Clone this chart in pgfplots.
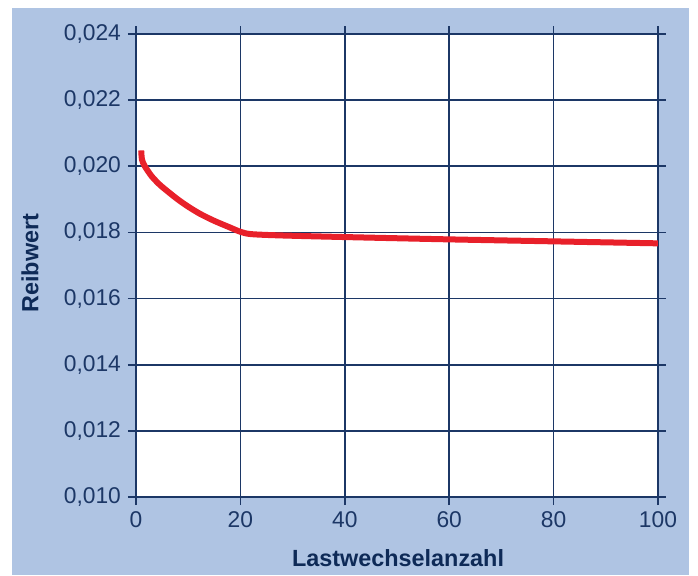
\documentclass[border=0pt]{standalone}
\usepackage{pgfplots}
\pgfplotsset{compat=1.18}
\usepackage{fontspec}
\setmainfont{Liberation Sans}
\definecolor{bgblue}{HTML}{AFC4E3}
\definecolor{navy}{HTML}{1C3766}
\definecolor{labnavy}{HTML}{0E2A57}
\definecolor{curvered}{HTML}{E8202A}
\begin{document}
\begin{tikzpicture}
\path[use as bounding box] (-68pt,-39pt) rectangle (281pt,248.5pt);
\fill[bgblue] (-62pt,-39pt) rectangle (276.5pt,244.5pt);
\begin{axis}[
  at={(0,0)}, anchor=south west,
  scale only axis, width=261pt, height=231.5pt,
  xmin=0, xmax=100, ymin=0.010, ymax=0.024,
  xtick={0,20,40,60,80,100},
  ytick={0.010,0.012,0.014,0.016,0.018,0.020,0.022,0.024},
  grid=major,
  major grid style={navy, line width=0.85pt},
  axis line style={navy, line width=0.85pt},
  tick style={navy, line width=0.85pt},
  tick align=outside, major tick length=4pt,
  axis background/.style={fill=white},
  /pgf/number format/assume math mode=true,
  yticklabel style={/pgf/number format/fixed, /pgf/number format/fixed zerofill, /pgf/number format/precision=3, /pgf/number format/use comma},
  scaled y ticks=false,
  ticklabel style={font=\fontsize{11.4}{13}\selectfont, text=navy},
  xlabel={Lastwechselanzahl},
  ylabel={Reibwert},
  label style={font=\fontsize{11.7}{14}\selectfont\bfseries, text=labnavy},
  xlabel style={at={(axis description cs:0.502,-0.1318)}, anchor=center},
  ylabel style={at={(axis description cs:-0.203,0.505)}, anchor=center},
  clip=true,
]
\addplot[curvered, line width=3pt, smooth, tension=0.5] coordinates {
(1,0.02048) (1.15,0.02020) (1.7,0.02000) (3,0.01970) (4.5,0.01945) (6,0.01925)
(8,0.01900) (10,0.01878) (12.3,0.01856) (15,0.01835) (18,0.01815) (20,0.01802)
(22,0.01795) (27.6,0.01791) (40,0.01786) (60,0.01779) (80,0.01773) (100,0.01767)
};
\end{axis}
\end{tikzpicture}
\end{document}
